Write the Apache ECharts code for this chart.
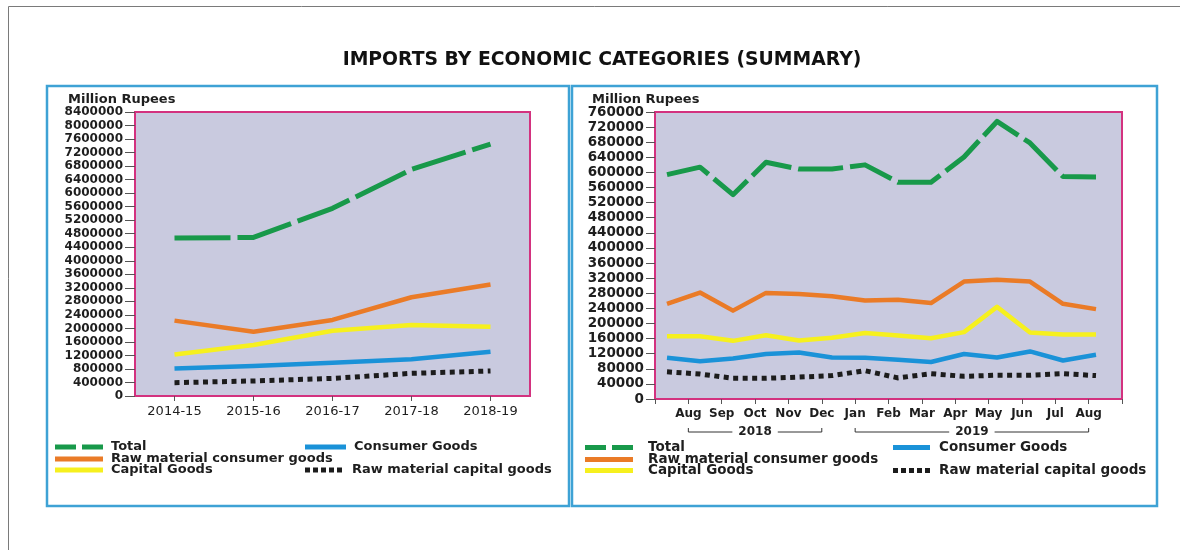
<!DOCTYPE html>
<html><head><meta charset="utf-8">
<script src="https://cdn.jsdelivr.net/npm/echarts@6/dist/echarts.min.js"></script>
<style>html,body{margin:0;padding:0;background:#fff}#c{width:1180px;height:550px}</style>
</head><body><div id="c"></div>
<script>
// ---------- data ----------
const years = ['2014-15', '2015-16', '2016-17', '2017-18', '2018-19'];
const annualTotal       = [4670000, 4690000, 5550000, 6700000, 7450000];
const annualRawConsumer = [2230000, 1900000, 2250000, 2920000, 3300000];
const annualCapital     = [1230000, 1510000, 1930000, 2100000, 2050000];
const annualConsumer    = [810000, 890000, 985000, 1085000, 1310000];
const annualRawCapital  = [395000, 445000, 520000, 670000, 740000];

const monthLabels = ['Aug', 'Sep', 'Oct', 'Nov', 'Dec', 'Jan', 'Feb', 'Mar', 'Apr', 'May', 'Jun', 'Jul', 'Aug'];
const yearGroups = [{ year: '2018', first: 0, last: 4 }, { year: '2019', first: 5, last: 12 }];
const monthlyPeriods = ['Jul-18', 'Aug-18', 'Sep-18', 'Oct-18', 'Nov-18', 'Dec-18', 'Jan-19', 'Feb-19', 'Mar-19', 'Apr-19', 'May-19', 'Jun-19', 'Jul-19', 'Aug-19'];
const monthlyTotal       = [594000, 614000, 541000, 627000, 609000, 609000, 620000, 574000, 574000, 641000, 735000, 678000, 589000, 588000];
const monthlyRawConsumer = [252000, 282000, 234000, 281000, 278000, 272000, 261000, 263000, 254000, 311000, 316000, 311000, 252000, 238000];
const monthlyCapital     = [166000, 166000, 154000, 169000, 155000, 162000, 175000, 168000, 161000, 177000, 244000, 176000, 171000, 171000];
const monthlyConsumer    = [109000, 100000, 107000, 119000, 123000, 110000, 109000, 104000, 98000, 119000, 110000, 126000, 102000, 117000];
const monthlyRawCapital  = [72000, 66000, 55000, 55000, 58000, 62000, 75000, 56000, 67000, 60000, 63000, 63000, 67000, 62000];

const seriesNames = ['Total', 'Raw material consumer goods', 'Capital Goods', 'Consumer Goods', 'Raw material capital goods'];
const yTitle = 'Million Rupees';
const chartTitle = 'IMPORTS BY ECONOMIC CATEGORIES (SUMMARY)';

// ---------- styles ----------
const FONT = 'DejaVu Sans';
const COL = { 'Total': '#18994a', 'Raw material consumer goods': '#ea7b27', 'Capital Goods': '#f6f01e', 'Consumer Goods': '#1a92d8', 'Raw material capital goods': '#1c1c1c' };
const PLOT_BG = '#c9cadf', FRAME = '#d3327f', PANEL = '#3ea2d5', TXT = '#1e1e1e';

function lineStyleFor(name, panel) {
  const s = { color: COL[name], width: 4.5, cap: 'butt', join: 'round' };
  if (name === 'Total') { s.width = 5; s.type = panel === 0 ? [56, 7] : [45, 7]; }
  if (name === 'Raw material capital goods') { s.width = 5; s.type = [5, 4.5]; s.join = 'miter'; }
  return s;
}
const annual = [annualTotal, annualRawConsumer, annualCapital, annualConsumer, annualRawCapital];
const monthly = [monthlyTotal, monthlyRawConsumer, monthlyCapital, monthlyConsumer, monthlyRawCapital];
const series = [];
seriesNames.forEach((n, i) => {
  series.push({ name: n, type: 'line', xAxisIndex: 0, yAxisIndex: 0, data: annual[i], symbol: 'none', lineStyle: lineStyleFor(n, 0), itemStyle: { color: COL[n] }, silent: true, animation: false, z: 10 - i });
  series.push({ name: n, type: 'line', xAxisIndex: 2, yAxisIndex: 2, data: monthly[i], symbol: 'none', lineStyle: lineStyleFor(n, 1), itemStyle: { color: COL[n] }, silent: true, animation: false, z: 10 - i });
});

// legend icon shapes (drawn as filled paths, width w, height 5)
function legendIconPath(name, w) {
  if (name === 'Total') {
    const d = Math.round(w / 2 - 3);
    return 'path://M0,0H' + d + 'V5H0Z M' + (w - d) + ',0H' + w + 'V5H' + (w - d) + 'Z';
  }
  if (name === 'Raw material capital goods') {
    let p = 'path://';
    for (let x = 0; x + 5 <= w + 0.01; x += 8) p += 'M' + x + ',0H' + (x + 5) + 'V5H' + x + 'Z ';
    return p.trim();
  }
  return 'path://M0,0H' + w + 'V5H0Z';
}
// legend specs: [name, iconLeft, iconWidth, centerY, textGap, fontSize]
const legendSpecs = [
  ['Total', 55, 48, 447, 8, 13],
  ['Raw material consumer goods', 55, 48, 459, 8, 13],
  ['Capital Goods', 55, 48, 470, 8, 13],
  ['Consumer Goods', 305, 41, 447, 8, 13],
  ['Raw material capital goods', 305, 41, 470, 8, 13],
  ['Total', 585, 48, 447, 15, 13.5],
  ['Raw material consumer goods', 585, 48, 459, 15, 13.5],
  ['Capital Goods', 585, 48, 470, 15, 13.5],
  ['Consumer Goods', 893, 37, 447, 9, 13.5],
  ['Raw material capital goods', 893, 37, 470, 9, 13.5]
];
const legends = legendSpecs.map(([n, l, w, cy, gap, fs]) => ({
  data: [{ name: n, icon: legendIconPath(n, w) }], left: l, top: cy - 6.5, itemWidth: w, itemHeight: 5, padding: 0, selectedMode: false,
  textStyle: { fontFamily: FONT, fontWeight: 'bold', fontSize: fs, color: TXT, padding: [0, 0, 0, gap - 5] }
}));

const yLabel = (fs, m) => ({ fontFamily: FONT, fontWeight: 'bold', fontSize: fs, color: TXT, margin: m, formatter: v => String(v) });
const option = {
  animation: false,
  backgroundColor: '#fff',
  grid: [
    { left: 135, top: 112, width: 395, height: 284, show: true, backgroundColor: PLOT_BG, borderColor: FRAME, borderWidth: 2 },
    { left: 655, top: 112, width: 467, height: 287, show: true, backgroundColor: PLOT_BG, borderColor: FRAME, borderWidth: 2 },
    { left: 667, top: 112, width: 429, height: 287, show: false }
  ],
  xAxis: [
    { gridIndex: 0, type: 'category', data: years, boundaryGap: true, axisLine: { show: false },
      axisTick: { show: true, alignWithLabel: true, length: 5, lineStyle: { color: '#555' } },
      axisLabel: { fontFamily: FONT, fontSize: 13, color: TXT, margin: 9 } },
    { gridIndex: 1, type: 'category', data: [''].concat(monthLabels, ['']), boundaryGap: false, axisLine: { show: false },
      axisTick: { show: true, interval: 0, length: 5, lineStyle: { color: '#555' } },
      axisLabel: { interval: 0, fontFamily: FONT, fontWeight: 'bold', fontSize: 12, color: TXT, margin: 9 } },
    { gridIndex: 2, type: 'category', data: monthlyPeriods, boundaryGap: false, show: false }
  ],
  yAxis: [
    { gridIndex: 0, type: 'value', min: 0, max: 8400000, interval: 400000, axisLine: { show: false },
      axisTick: { show: true, length: 10, lineStyle: { color: '#555' } }, splitLine: { show: false },
      axisLabel: yLabel(12, 12) },
    { gridIndex: 1, type: 'value', min: 0, max: 760000, interval: 40000, axisLine: { show: false },
      axisTick: { show: true, length: 9, lineStyle: { color: '#555' } }, splitLine: { show: false },
      axisLabel: yLabel(13.5, 11) },
    { gridIndex: 2, type: 'value', min: 0, max: 760000, show: false, splitLine: { show: false } }
  ],
  legend: legends,
  series: series,
  graphic: [
    { type: 'rect', shape: { x: 8.5, y: 6.5, width: 1300, height: 700 }, style: { fill: 'none', stroke: '#7a7a7a', lineWidth: 1 }, silent: true },
    { type: 'rect', shape: { x: 47, y: 86, width: 522, height: 420 }, style: { fill: 'none', stroke: PANEL, lineWidth: 2.5 }, silent: true },
    { type: 'rect', shape: { x: 572, y: 86, width: 585, height: 420 }, style: { fill: 'none', stroke: PANEL, lineWidth: 2.5 }, silent: true },
    { type: 'text', x: 602, y: 60, style: { text: chartTitle, font: 'bold 18.8px "DejaVu Sans"', fill: '#111', align: 'center', verticalAlign: 'middle' }, silent: true },
    { type: 'text', x: 68, y: 100, style: { text: yTitle, font: 'bold 13px "DejaVu Sans"', fill: TXT, align: 'left', verticalAlign: 'middle' }, silent: true },
    { type: 'text', x: 592, y: 100, style: { text: yTitle, font: 'bold 13px "DejaVu Sans"', fill: TXT, align: 'left', verticalAlign: 'middle' }, silent: true }
  ]
};
const chart = echarts.init(document.getElementById('c'));
chart.setOption(option);

// year brackets under the month labels
const bracketY = 432;
const extra = [];
yearGroups.forEach(g => {
  const x1 = chart.convertToPixel({ xAxisIndex: 1 }, g.first + 1);
  const x2 = chart.convertToPixel({ xAxisIndex: 1 }, g.last + 1);
  extra.push({ type: 'polyline', shape: { points: [[x1, bracketY - 4], [x1, bracketY], [x2, bracketY], [x2, bracketY - 4]] }, style: { stroke: '#333', lineWidth: 1, fill: null }, silent: true });
  extra.push({ type: 'text', x: (x1 + x2) / 2, y: bracketY, z: 5, style: { text: g.year, font: 'bold 12px "DejaVu Sans"', fill: TXT, align: 'center', verticalAlign: 'middle', backgroundColor: '#fff', padding: [1, 6] }, silent: true });
});
chart.setOption({ graphic: option.graphic.concat(extra) });
</script>
</body></html>
